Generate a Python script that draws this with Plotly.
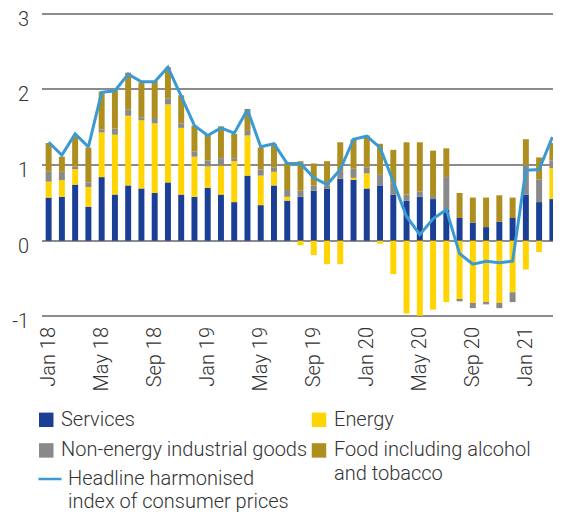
import plotly.graph_objects as go

months = [f"{m} {y}" for y in ["18", "19", "20", "21"]
          for m in ["Jan", "Feb", "Mar", "Apr", "May", "Jun", "Jul", "Aug", "Sep", "Oct", "Nov", "Dec"]][:39]

services = [0.57, 0.58, 0.74, 0.45, 0.84, 0.61, 0.73, 0.69, 0.63, 0.77, 0.61, 0.58,
            0.70, 0.61, 0.51, 0.86, 0.47, 0.73, 0.53, 0.58, 0.66, 0.69, 0.82, 0.81,
            0.69, 0.73, 0.61, 0.53, 0.58, 0.55, 0.41, 0.30, 0.24, 0.18, 0.25, 0.30,
            0.61, 0.51, 0.55]
energy = [0.21, 0.22, 0.22, 0.26, 0.59, 0.79, 0.92, 0.90, 0.92, 1.03, 0.88, 0.53,
          0.28, 0.38, 0.54, 0.53, 0.39, 0.18, 0.05, -0.06, -0.19, -0.31, -0.31, 0.02,
          0.20, -0.04, -0.44, -0.96, -0.99, -0.91, -0.81, -0.78, -0.82, -0.82, -0.82, -0.68,
          -0.38, -0.15, 0.41]
neig = [0.13, 0.11, 0.02, 0.06, 0.04, 0.08, 0.08, 0.04, 0.07, 0.08, 0.06, 0.07,
        0.08, 0.10, 0.04, 0.06, 0.08, 0.06, 0.09, 0.08, 0.07, 0.04, 0.10, 0.12,
        0.08, 0.14, 0.15, 0.08, 0.07, 0.04, 0.43, -0.02, -0.07, -0.02, -0.07, -0.13,
        0.39, 0.30, 0.10]
food = [0.38, 0.20, 0.40, 0.46, 0.50, 0.52, 0.49, 0.46, 0.49, 0.41, 0.37, 0.34,
        0.34, 0.42, 0.32, 0.29, 0.29, 0.31, 0.36, 0.39, 0.29, 0.32, 0.38, 0.39,
        0.42, 0.41, 0.44, 0.69, 0.65, 0.60, 0.38, 0.33, 0.33, 0.39, 0.35, 0.27,
        0.34, 0.29, 0.23]
hicp = [1.30, 1.13, 1.41, 1.24, 1.96, 1.98, 2.20, 2.10, 2.10, 2.29, 1.91, 1.52,
        1.39, 1.49, 1.42, 1.73, 1.24, 1.28, 1.02, 1.02, 0.83, 0.74, 0.94, 1.34,
        1.38, 1.23, 0.78, 0.32, 0.08, 0.29, 0.41, -0.17, -0.31, -0.27, -0.29, -0.27,
        0.93, 0.94, 1.37]

tick_months = months[::4]
y_ticks = [-1, 0, 1, 2, 3]

C_SERV = "#1b3f94"
C_ENERGY = "#ffd400"
C_NEIG = "#898989"
C_FOOD = "#ae8e1e"
C_LINE = "#3a9ad3"
FONT = "Roboto Light, Roboto"
TXT = "#333333"

fig = go.Figure()
for name, vals, col in [("Services", services, C_SERV), ("Energy", energy, C_ENERGY),
                        ("Non-energy industrial goods", neig, C_NEIG),
                        ("Food including alcohol and tobacco", food, C_FOOD)]:
    fig.add_trace(go.Bar(x=months, y=vals, name=name, marker_color=col,
                         marker_line_width=0, showlegend=False))
fig.add_trace(go.Scatter(x=months, y=hicp, mode="lines", name="HICP",
                         line=dict(color=C_LINE, width=3), showlegend=False))

# page body has an 8px margin; work in window pixels and subtract it
OFF = 8
PAD = 0.02            # y-range padding (units) so the 3 and -1 gridlines are drawn
UNIT = (316 - 14) / 4  # pixels per unit in the reference
W, H = 561 - OFF, 515 - OFF
L, R = 41.5 - OFF, 559 - OFF
T, B = 14 - OFF - PAD * UNIT, 316 - OFF + PAD * UNIT


def px(x):
    return (x - OFF - L) / (R - L)


def py(y):
    return (B - (y - OFF)) / (B - T)


shapes = []
annos = []
legend_items = [
    (38.5, 419, "rect", C_SERV, 60, ["Services"]),
    (311.5, 419, "rect", C_ENERGY, 333, ["Energy"]),
    (38.5, 449.5, "rect", C_NEIG, 60, ["Non-energy industrial goods"]),
    (311.5, 449.5, "rect", C_FOOD, 333, ["Food including alcohol", "and tobacco"]),
    (38, 478, "line", C_LINE, 67, ["Headline harmonised", "index of consumer prices"]),
]
for x0, yc, kind, col, tx, lines in legend_items:
    if kind == "rect":
        shapes.append(dict(type="rect", xref="paper", yref="paper",
                           x0=px(x0), x1=px(x0 + 14.5), y0=py(yc - 7.2), y1=py(yc + 7.2),
                           fillcolor=col, line_width=0))
    else:
        shapes.append(dict(type="line", xref="paper", yref="paper",
                           x0=px(x0), x1=px(x0 + 23), y0=py(yc), y1=py(yc),
                           line=dict(color=col, width=2.5)))
    for i, t in enumerate(lines):
        annos.append(dict(text=t, xref="paper", yref="paper", x=px(tx - 1), y=py(yc + i * 23.3 - 1),
                          xanchor="left", yanchor="middle", showarrow=False,
                          font=dict(family=FONT, size=20, color=TXT, weight=300)))

fig.update_layout(
    width=W, height=H,
    margin=dict(l=L, r=W - R, t=T, b=H - B, pad=0, autoexpand=False),
    paper_bgcolor="white", plot_bgcolor="white",
    barmode="relative", bargap=0.55,
    showlegend=False,
    font=dict(family=FONT, size=20, color=TXT, weight=300),
    shapes=shapes, annotations=annos,
    xaxis=dict(type="category", tickmode="array", tickvals=tick_months, ticktext=tick_months,
               tickangle=-90, showgrid=False, ticks="", showline=False, zeroline=False,
               ticklabelstandoff=4, automargin=False,
               tickfont=dict(family=FONT, size=20, color=TXT, weight=300)),
    yaxis=dict(range=[-1 - PAD, 3 + PAD], tickmode="array", tickvals=y_ticks,
               ticktext=[str(v) for v in y_ticks],
               showgrid=True, gridcolor="#8c8c8c", gridwidth=1.5,
               zeroline=True, zerolinecolor="#8c8c8c", zerolinewidth=1.5,
               showline=False, ticks="", ticklabelstandoff=12, ticklabelshift=5,
               automargin=False, ticklabeloverflow="allow",
               tickfont=dict(family=FONT, size=20, color=TXT, weight=300)),
)

fig.write_html("out.html")
